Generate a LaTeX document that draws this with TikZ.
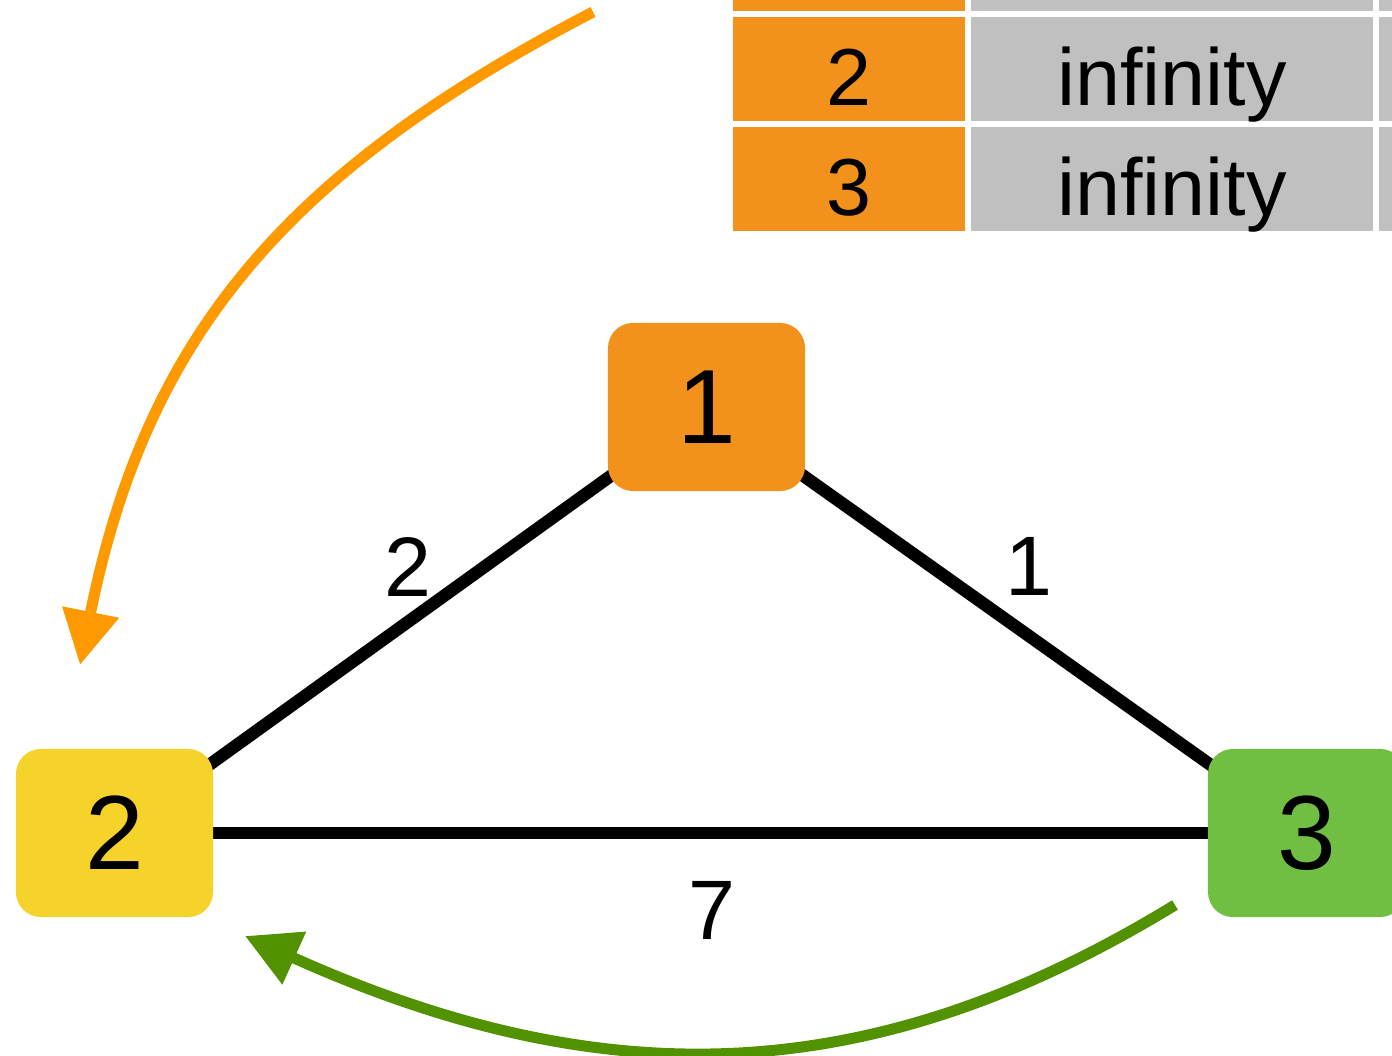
\documentclass[tikz,border=0pt]{standalone}
\definecolor{NodeOrange}{RGB}{242,145,27}
\definecolor{NodeYellow}{RGB}{245,211,43}
\definecolor{NodeGreen}{RGB}{112,190,66}
\definecolor{CellGray}{RGB}{192,192,192}
\definecolor{ArrowOrange}{RGB}{255,153,0}
\definecolor{ArrowGreen}{RGB}{82,146,0}
\usepackage{fontspec}
\setmainfont{Liberation Sans}
\usepackage{tikz}
\usetikzlibrary{positioning, arrows.meta, backgrounds}

\begin{document}
\begin{tikzpicture}[x=0.01cm, y=-0.01cm,
    vertex/.style={rectangle, rounded corners=0.25cm, minimum width=1.97cm, minimum height=1.68cm,
      inner sep=0pt, font=\fontsize{30}{36}\selectfont},
    edge/.style={line width=0.125cm, black},
    weight/.style={font=\fontsize{24}{28}\selectfont, inner sep=0pt},
    keycell/.style={rectangle, fill=NodeOrange, minimum width=2.32cm, minimum height=1.04cm,
      inner sep=0pt, text height=0.72cm, text depth=0pt, font=\fontsize{23}{27}\selectfont},
    distcell/.style={keycell, fill=CellGray, minimum width=4.02cm},
    hop/.style={line width=0.11cm, -{Triangle[length=0.54cm, width=0.55cm]}}]
  \useasboundingbox (0,0) rectangle (1392,1055);
  \clip (0,0) rectangle (1392,1055);

  \node[keycell] (keyA) at (849,-41) {};
  \node[distcell] (distA) at (1172,-41) {};
  \node[distcell] (prevA) at (1580,-41) {};
  \node[keycell] (keyB) at (849,69) {2};
  \node[distcell] (distB) at (1172,69) {infinity};
  \node[distcell] (prevB) at (1580,69) {};
  \node[keycell] (keyC) at (849,179) {3};
  \node[distcell] (distC) at (1172,179) {infinity};
  \node[distcell] (prevC) at (1580,179) {};

  \node[vertex, fill=NodeOrange] (v1) at (706.5,407) {1};
  \node[vertex, fill=NodeYellow] (v2) at (114.5,833) {2};
  \node[vertex, fill=NodeGreen] (v3) at (1306.5,833) {3};

  \begin{scope}[on background layer]
    \draw[edge] (v1.center) -- node[weight, midway, shift={(-3,-53)}] (w12) {2} (v2.center);
    \draw[edge] (v1.center) -- node[weight, midway, shift={(22,-54)}] (w13) {1} (v3.center);
    \draw[edge] (v2.center) -- node[weight, midway, shift={(1,77)}] (w23) {7} (v3.center);
  \end{scope}

  \coordinate (orangefrom) at (593,12);
  \coordinate (orangeto) at (80,665);
  \coordinate (greenfrom) at (1175,905);
  \coordinate (greento) at (245,936);
  \draw[hop, ArrowOrange] (orangefrom) .. controls (291,169) and (147,332) .. (orangeto);
  \draw[hop, ArrowGreen] (greenfrom) .. controls (877,1087) and (610,1100) .. (greento);
\end{tikzpicture}
\end{document}
